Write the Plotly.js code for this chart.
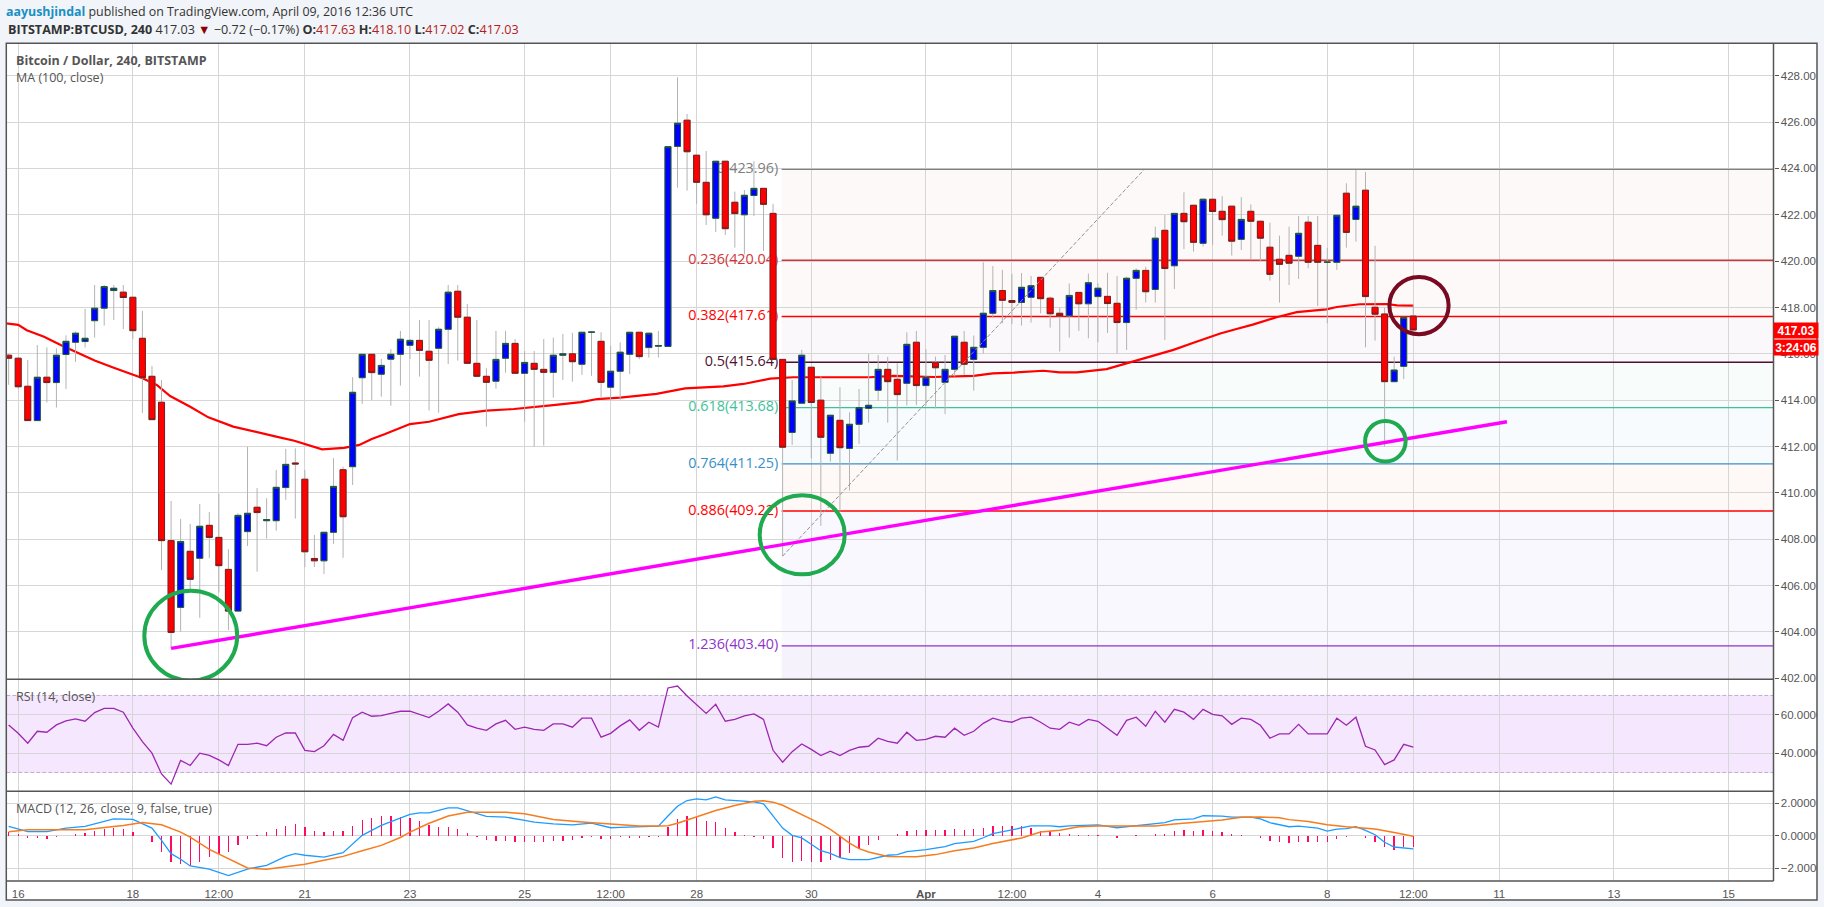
<!DOCTYPE html>
<html><head><meta charset="utf-8">
<script src="https://cdn.plot.ly/plotly-3.0.1.min.js"></script>
<style>html,body{margin:0;padding:0;background:#f1f4f8}#c{width:1824px;height:907px}</style>
</head><body><div id="c"></div>
<script>
// bars are numbered from -1 (first, partly visible) to 146; one bar = 4 hours
const open = [415.94,415.81,414.6,413.12,414.99,414.76,415.97,416.5,416.53,417.43,417.97,418.73,418.66,418.44,416.67,415.03,413.91,407.94,405.06,407.48,407.18,408.6,408.08,406.7,404.9,408.33,409.38,408.8,408.8,410.23,411.29,410.59,407.17,407.07,408.3,411.0,411.13,414.97,415.98,415.12,415.77,415.98,416.37,416.58,416.11,416.24,417.06,418.7,417.58,415.59,415.03,414.82,415.81,416.45,415.16,415.59,415.33,415.2,415.94,416.0,415.55,416.93,416.54,414.56,415.25,415.98,416.93,416.27,416.33,416.32,424.95,426.08,424.57,423.4,421.85,424.31,422.54,422.0,422.83,423.14,422.06,415.76,412.61,413.87,415.42,414.0,411.71,413.13,411.92,412.96,413.65,414.43,415.33,414.9,414.73,416.5,414.63,415.62,414.77,415.33,416.5,415.76,416.28,417.75,418.73,418.3,418.22,418.44,419.3,418.4,417.75,417.64,418.65,418.16,418.47,418.48,418.18,417.35,419.26,419.6,418.78,421.33,419.8,422.06,422.41,420.77,422.67,422.15,422.37,420.94,422.15,421.72,420.6,420.08,420.25,420.21,421.68,420.68,419.95,419.95,422.93,421.8,423.06,418.01,417.72,414.8,415.46,417.63];
const high = [416.0,415.85,415.73,416.38,416.28,416.24,416.8,416.96,417.94,418.97,418.97,418.97,418.97,418.44,417.85,415.48,414.87,409.65,408.87,408.66,409.52,409.18,409.97,407.57,409.12,411.99,410.21,409.77,410.99,411.9,411.92,410.99,408.18,408.3,411.5,411.13,414.99,415.98,416.0,415.78,416.2,416.99,416.64,417.46,417.46,417.15,418.97,418.97,418.15,417.46,415.38,416.99,416.99,416.64,416.12,416.12,416.64,416.7,416.86,416.91,416.93,416.99,416.93,416.35,416.5,416.93,416.93,416.89,416.99,424.94,427.93,426.35,424.57,424.75,424.31,424.31,423.0,423.07,424.31,423.14,422.47,415.76,414.87,416.17,415.42,415.02,413.35,414.56,413.48,414.48,416.0,415.95,415.87,415.59,416.93,416.99,416.2,415.88,415.95,416.76,416.99,416.79,419.95,419.79,419.62,419.45,419.49,419.36,419.3,418.47,417.99,419.04,418.65,419.46,419.04,419.5,419.36,419.33,419.69,419.76,421.49,421.99,422.06,422.97,422.41,422.71,422.67,422.81,422.37,422.76,422.45,421.72,421.66,421.1,421.49,421.95,421.95,421.95,420.57,421.98,423.36,423.93,423.85,420.66,418.0,415.88,417.6,418.1];
const low = [414.66,414.5,413.1,413.1,413.9,413.68,414.48,415.65,416.27,416.7,417.22,417.46,417.07,416.64,413.45,413.16,406.67,403.29,404.01,405.8,404.61,407.18,405.7,404.08,404.9,407.71,406.6,408.03,408.37,409.7,408.89,406.8,406.8,406.5,407.8,407.2,410.34,413.84,414.01,414.15,413.76,414.63,415.78,415.02,413.55,413.46,415.56,415.71,415.59,415.03,412.86,414.5,415.19,415.16,413.07,412.0,412.04,414.11,414.87,414.8,415.09,415.05,414.08,414.0,414.01,415.13,415.77,415.84,415.84,416.32,423.17,423.04,422.46,421.56,421.26,421.13,420.58,420.29,421.95,420.44,415.76,407.27,412.07,413.87,411.49,408.58,411.35,409.19,410.1,412.11,413.03,413.98,413.03,411.39,413.77,413.79,413.75,413.65,413.4,415.02,415.09,414.41,416.02,417.53,417.32,417.29,417.22,417.35,417.75,417.13,416.1,416.7,416.99,416.67,416.5,416.9,416.02,416.17,417.9,418.22,418.21,416.6,418.8,420.52,420.41,420.63,420.7,421.1,420.24,420.48,420.09,419.98,419.16,418.21,418.97,419.23,419.69,418.06,417.32,419.62,420.58,420.84,416.28,416.57,412.0,414.77,414.91,417.02];
const close = [415.81,414.58,413.12,414.99,414.76,415.94,416.54,416.89,416.67,417.97,418.9,418.83,418.43,417.0,414.97,413.16,407.94,403.98,407.9,406.27,408.56,408.08,406.86,404.9,409.03,409.12,409.15,408.85,410.24,411.23,411.25,407.46,407.07,408.3,410.28,408.97,414.34,415.98,415.19,415.5,415.98,416.63,416.58,416.15,415.72,417.06,418.66,417.58,415.59,415.03,414.77,415.76,416.45,415.16,415.63,415.33,415.2,415.94,416.0,415.66,416.93,416.94,414.77,415.25,416.07,416.93,415.88,416.89,416.36,424.94,425.95,424.72,423.4,422.0,424.31,421.4,422.05,422.84,423.14,422.45,415.76,411.97,413.97,415.94,413.9,412.4,413.35,411.95,412.96,413.68,413.78,415.33,414.8,414.24,416.41,414.63,414.99,415.4,415.33,416.76,415.55,416.28,417.75,418.73,418.31,418.22,418.87,418.94,418.38,417.73,417.63,418.52,418.16,419.07,418.83,418.17,417.35,419.26,419.6,418.68,420.99,419.68,422.06,421.7,420.81,422.67,422.14,421.79,420.86,421.8,421.72,420.99,419.43,419.86,419.91,421.2,419.95,419.95,419.96,421.98,421.24,422.37,418.47,417.71,414.8,415.3,417.57,417.03];

const maBars = [-1.3,0,0.9,2.7,4.5,6.4,8,10,11,12.9,14.5,15.9,18,19.9,22.5,24.3,27,28.9,31.8,34.1,35.7,37,38.4,41,43,46.1,49,51.9,53.6,56,58.9,60.6,63,66.8,69.8,73.8,75.9,78.7,81.1,85.3,89.1,91.6,95.8,100,102,104.2,107.3,109,110.8,113.9,116.7,120.9,123,125.8,127.5,129.2,131.7,133.8,136.9,138,140.4,143.2,144.3,146];
const maValues = [417.32,417.25,417.02,416.74,416.37,416.02,415.71,415.4,415.26,414.97,414.66,414.18,413.72,413.26,412.86,412.7,412.43,412.25,411.88,411.94,412.07,412.33,412.54,412.97,413.07,413.4,413.55,413.62,413.68,413.79,413.92,414.05,414.11,414.27,414.51,414.6,414.7,414.93,414.99,414.99,414.99,415.05,415.0,415.05,415.16,415.19,415.27,415.2,415.2,415.34,415.66,416.17,416.48,416.88,417.07,417.26,417.58,417.8,417.92,418.02,418.14,418.15,418.09,418.08];

const rsiValues = [54.68,50.35,45.2,51.4,50.9,54.7,56.8,57.8,56.6,61.1,63.3,63.3,61.3,53,46,40,29.2,23.9,36.3,33.6,40,38.9,36.5,33.6,44.6,44.6,45.2,43.9,48.3,50.5,50.5,41.5,40.8,43.9,49.8,46.7,58.5,61.3,59.2,59.5,60.7,61.8,61.8,60.2,58.5,61.8,65.6,61.3,54.7,53,51.9,55.2,57.1,52.4,53.5,52.4,51.9,55.2,55.2,53.5,58.2,58.2,48.3,50.3,54.2,57.3,51.9,56.1,53.6,73.9,74.9,69.7,65.2,60.7,65.4,56.6,57.6,59.4,60.4,57.6,41.5,35.3,40.8,44.8,42,38.75,41,38.75,41.5,43.1,43.6,47.8,46.2,45.2,50.9,46.7,47.2,48.8,48.3,53,49.3,51.4,55.5,58.2,56.8,56.1,58.2,58.7,56.1,53,52.4,56.1,54.5,57.6,56.6,53,49.3,57.1,58.7,54,61.8,56.1,62.8,61.3,57.6,62.8,60.2,59.4,55,58.2,57.6,54.5,47.8,50,50,55,50,50,50,58.2,54.5,58.7,43.6,41.7,34.1,36.5,44.6,43.1];

const macdBars = [-1,1,3,5,7,9,10,12,14,15,16,17,18,20,22,24,26,28,29,30,32,34,35,36,38,40,41,42,43,45,46,49,51,53,54,56,58,60,62,63,65,67,68,69,70,71,72,73,74,76,77,78,79,80,81,82,84,85,86,87,89,91,92,93,95,97,98,100,101,102,104,106,108,109,110,113,115,117,119,120,121,123,124,126,127,129,130,131,133,134,136,137,138,139,140,141,142,143,144,145,146];
const macdValues = [0.57,0.25,0.25,0.47,0.57,0.88,1.04,1.0,0.47,-0.29,-1.11,-1.46,-1.87,-2.06,-2.47,-2.06,-1.83,-1.28,-1.11,-1.21,-1.32,-1.05,-0.49,0.02,0.63,1.1,1.31,1.41,1.41,1.72,1.72,1.19,1.15,0.94,0.84,0.73,0.67,0.77,0.49,0.51,0.53,0.59,1.21,1.82,2.17,2.27,2.21,2.4,2.21,2.13,2.09,1.97,1.25,0.47,0.02,-0.14,-0.93,-1.09,-1.36,-1.48,-1.48,-1.21,-1.17,-0.99,-0.86,-0.68,-0.49,-0.35,-0.13,0.12,0.36,0.61,0.61,0.55,0.61,0.67,0.49,0.61,0.73,0.8,0.98,1.04,1.23,1.21,1.14,1.14,1.04,0.8,0.55,0.59,0.47,0.28,0.41,0.43,0.55,0.33,0.06,-0.41,-0.7,-0.76,-0.82];
const signalBars = [-1,1,5,7,10,11,13,15,17,18,20,22,24,26,28,30,32,34,36,38,40,41,43,45,47,49,51,53,54,56,59,61,63,65,67,68,69,71,73,75,77,78,79,80,82,84,85,86,87,88,89,90,91,94,96,98,100,102,105,107,109,111,113,117,119,121,124,126,128,130,132,133,135,137,139,141,142,144,146];
const signalValues = [0.24,0.36,0.36,0.36,0.57,0.63,0.82,0.67,0.22,-0.09,-0.85,-1.42,-1.99,-2.08,-1.93,-1.77,-1.52,-1.28,-0.93,-0.6,-0.11,0.22,0.77,1.21,1.45,1.45,1.45,1.35,1.23,1.0,0.84,0.77,0.67,0.59,0.59,0.61,0.77,1.14,1.55,1.86,2.13,2.15,2.07,1.88,1.31,0.73,0.39,-0.05,-0.46,-0.8,-1.01,-1.15,-1.28,-1.3,-1.17,-0.93,-0.76,-0.49,-0.14,0.22,0.33,0.55,0.59,0.59,0.59,0.72,0.88,0.97,1.14,1.16,1.1,0.99,0.88,0.67,0.55,0.43,0.41,0.19,-0.04];
const histValues = [0.23,0.1,-0.14,-0.12,-0.2,-0.06,0,0.1,0.16,0.27,0.39,0.45,0.39,0.2,0,-0.41,-1.0,-1.62,-1.76,-1.85,-1.62,-1.31,-1.15,-1.0,-0.59,-0.2,0.04,0.2,0.39,0.57,0.7,0.51,0.27,0.2,0.27,0.27,0.57,0.94,1.07,1.19,1.19,1.15,1.07,0.88,0.64,0.51,0.51,0.39,0.14,-0.06,-0.29,-0.35,-0.35,-0.41,-0.41,-0.41,-0.41,-0.35,-0.31,-0.29,-0.12,-0.08,-0.23,-0.18,-0.1,-0.14,-0.14,-0.08,-0.06,0.53,1.0,1.19,1.15,0.88,0.82,0.45,0.2,0.02,-0.06,-0.23,-0.78,-1.39,-1.62,-1.56,-1.62,-1.62,-1.52,-1.35,-1.09,-0.84,-0.6,-0.29,0,0.08,0.27,0.33,0.33,0.33,0.33,0.39,0.33,0.39,0.45,0.57,0.57,0.57,0.57,0.45,0.27,0.27,0.14,0.08,0.04,0.02,0.02,0,-0.14,0,0.02,0,0.1,0.1,0.27,0.33,0.27,0.33,0.27,0.23,0.1,0.02,0,-0.14,-0.35,-0.41,-0.47,-0.41,-0.41,-0.41,-0.41,-0.23,-0.08,-0.02,-0.14,-0.41,-0.72,-0.9,-0.72,-0.72];

const fibRatios = ['0','0.236','0.382','0.5','0.618','0.764','0.886','1.236'];
const fibPrices = [423.96,420.04,417.61,415.64,413.68,411.25,409.22,403.40];
const fibColors = ['#808080','#d13438','#ff0000','#4c1130','#3dc29a','#3a8fc9','#ff0000','#8e35c9'];
const fibBandColors = ['#fdf9f9','#fdf9f9','#faf8fa','#f8fcfb','#f7fbfe','#fef8f7','#f9f8fe','#f6f2fc'];

const trendBars = [16,155.8];
const trendPrices = [403.29,413.07];
const fibGuideBars = [80,117.85];
const fibGuidePrices = [407.27,423.96];

const tickBars = [0,12,21,30,41,53,62,71,83,95,104,113,125,137,146,155,167,179];
const tickLabels = ['16','18','12:00','21','23','25','12:00','28','30','<b>Apr</b>','12:00','4','6','8','12:00','11','13','15'];
const priceTicks = [402,404,406,408,410,412,414,416,418,420,422,424,426,428];
const rsiTicks = [40,60];
const macdTicks = [-2,0,2];

const W=1824,H=907;
const px=v=>v/W, py=v=>1-v/H;
const bars = open.map((_,i)=>i-1);
const xRange=[-1.245,183.7];
const priceRange=[401.97,429.39];
const FONT='"Open Sans",sans-serif', TICK='"Liberation Sans",Arial,sans-serif', INK='#555555';

const traces=[];
// --- main price subplot (below the candles)
fibPrices.forEach((p,i)=>traces.push({type:'scatter',mode:'lines',x:[79.9,xRange[1]],y:[p,p],xaxis:'x',yaxis:'y',
  line:{color:fibColors[i],width:1.4},hoverinfo:'skip'}));
traces.push({type:'scatter',mode:'text',x:fibPrices.map(()=>79.55),y:fibPrices,xaxis:'x',yaxis:'y',
  text:fibRatios.map((r,i)=>r+'('+fibPrices[i].toFixed(2)+')'),textposition:'middle left',
  textfont:{family:FONT,size:14.4,color:fibColors},hoverinfo:'skip',cliponaxis:false});
traces.push({type:'scatter',mode:'lines',x:maBars,y:maValues,xaxis:'x',yaxis:'y',line:{color:'#ff0000',width:2.2},hoverinfo:'skip'});
// --- overlay subplot: candles and drawings
traces.push({type:'candlestick',x:bars,open,high,low,close,xaxis:'x',yaxis:'y4',whiskerwidth:0,
  increasing:{line:{color:'#b3b3b3',width:1},fillcolor:'rgba(0,0,0,0)'},
  decreasing:{line:{color:'#b3b3b3',width:1},fillcolor:'rgba(0,0,0,0)'},hoverinfo:'skip'});
traces.push({type:'candlestick',x:bars,open,close,
  high:open.map((o,i)=>Math.max(o,close[i])),low:open.map((o,i)=>Math.min(o,close[i])),
  xaxis:'x',yaxis:'y4',whiskerwidth:0,
  increasing:{line:{color:'#1d5c38',width:1},fillcolor:'#0000ff'},
  decreasing:{line:{color:'#7c1c1c',width:1},fillcolor:'#ff0000'},hoverinfo:'skip'});
traces.push({type:'scatter',mode:'lines',x:fibGuideBars,y:fibGuidePrices,xaxis:'x',yaxis:'y4',line:{color:'#909090',width:1,dash:'4px 2px'},hoverinfo:'skip'});
traces.push({type:'scatter',mode:'lines',x:trendBars,y:trendPrices,xaxis:'x',yaxis:'y4',line:{color:'#ff00ff',width:3.4},hoverinfo:'skip'});
// --- RSI
[70,30].forEach(v=>traces.push({type:'scatter',mode:'lines',x:xRange,y:[v,v],xaxis:'x',yaxis:'y2',line:{color:'#c0aecb',width:1,dash:'4px 2px'},hoverinfo:'skip'}));
traces.push({type:'scatter',mode:'lines',x:bars,y:rsiValues,xaxis:'x',yaxis:'y2',line:{color:'#9c27b0',width:1.3},hoverinfo:'skip'});
// --- MACD
traces.push({type:'bar',x:bars,y:histValues,xaxis:'x',yaxis:'y3',width:0.14,marker:{color:'#ff0a62',line:{width:0}},hoverinfo:'skip'});
traces.push({type:'scatter',mode:'lines',x:macdBars,y:macdValues,xaxis:'x',yaxis:'y3',line:{color:'#1e9bff',width:1.3},hoverinfo:'skip'});
traces.push({type:'scatter',mode:'lines',x:signalBars,y:signalValues,xaxis:'x',yaxis:'y3',line:{color:'#f57c1f',width:1.5},hoverinfo:'skip'});

const yBase={side:'right',anchor:'x',showline:false,zeroline:false,ticks:'outside',ticklen:4,tickwidth:1,tickcolor:INK,
  gridcolor:'#d6d6d6',gridwidth:1,tickfont:{family:TICK,size:11.5,color:INK},fixedrange:true};

const bandEdges=[...fibPrices,priceRange[0]];
const shapes=[
  {type:'rect',xref:'paper',yref:'paper',x0:px(6.3),x1:px(1817),y0:py(900),y1:py(43.3),fillcolor:'#ffffff',line:{width:0},layer:'below'},
  ...fibBandColors.map((c,i)=>({type:'rect',xref:'x',yref:'y',x0:79.9,x1:xRange[1],y0:bandEdges[i+1],y1:bandEdges[i],fillcolor:c,line:{width:0},layer:'below'})),
  {type:'rect',xref:'x',yref:'y2',x0:xRange[0],x1:xRange[1],y0:30,y1:70,fillcolor:'#f5e7fd',line:{width:0},layer:'below'},
  {type:'circle',xref:'x',yref:'y',x0:13.2,x1:22.92,y0:401.9,y1:405.78,line:{color:'#1faa50',width:4},layer:'above'},
  {type:'circle',xref:'x',yref:'y',x0:77.6,x1:86.5,y0:406.49,y1:409.9,line:{color:'#1faa50',width:4},layer:'above'},
  {type:'circle',xref:'x',yref:'y',x0:140.96,x1:145.2,y0:411.35,y1:413.1,line:{color:'#1faa50',width:4},layer:'above'},
  {type:'circle',xref:'x',yref:'y',x0:143.5,x1:149.7,y0:416.85,y1:419.32,line:{color:'#7a0a22',width:4},layer:'above'},
  {type:'rect',xref:'paper',yref:'paper',x0:px(1817),x1:1,y0:0,y1:1,fillcolor:'#f1f4f8',line:{width:0},layer:'above'},
  {type:'rect',xref:'paper',yref:'paper',x0:px(6.3),x1:px(1817),y0:py(900),y1:py(43.3),fillcolor:'rgba(0,0,0,0)',line:{color:INK,width:1.5},layer:'above'},
  ...[679.3,791.3,881].map(y=>({type:'line',xref:'paper',yref:'paper',x0:px(6.3),x1:px(1773.5),y0:py(y),y1:py(y),line:{color:INK,width:1.5},layer:'above'})),
  {type:'line',xref:'paper',yref:'paper',x0:px(1773.5),x1:px(1773.5),y0:py(881),y1:py(43.3),line:{color:INK,width:1.5},layer:'above'}
];
const note=(x,y,text,size,extra)=>Object.assign({xref:'paper',yref:'paper',x:px(x),y:py(y),text,showarrow:false,xanchor:'left',yanchor:'middle',borderpad:0,
  font:{family:FONT,size,color:INK}},extra||{});
const R=s=>'<span style="color:#b71c1c">'+s+'</span>';
const annotations=[
  note(5,11.7,'<b><span style="color:#1a8fc4">aayushjindal</span></b> published on TradingView.com, April 09, 2016 12:36 UTC',12.4,{font:{family:FONT,size:12.4,color:'#333'}}),
  note(7,29.7,'<b>BITSTAMP:BTCUSD, 240</b> 417.03 <span style="color:#8b0000">▼</span> −0.72 (−0.17%) <b>O:</b>'+R('417.63')+' <b>H:</b>'+R('418.10')+' <b>L:</b>'+R('417.02')+' <b>C:</b>'+R('417.03'),12.6,{font:{family:FONT,size:12.6,color:'#333'}}),
  note(15,60.3,'<b>Bitcoin / Dollar, 240, BITSTAMP</b>',12.5),
  note(15,77.3,'MA (100, close)',12.5),
  note(15,696.7,'RSI (14, close)',12.5),
  note(15,808.3,'MACD (12, 26, close, 9, false, true)',12.5),
  note(1773,330,'<b>417.03</b>',12,{width:44,height:15,align:'center',bgcolor:'#ff0000',font:{family:TICK,size:12,color:'#fff'}}),
  note(1773,347.5,'<b>3:24:06</b>',12,{width:44,height:15,align:'center',bgcolor:'#ff0000',font:{family:TICK,size:12,color:'#fff'}})
];

const layout={
  width:W,height:H,margin:{l:0,r:0,t:0,b:0},paper_bgcolor:'#f1f4f8',plot_bgcolor:'rgba(0,0,0,0)',showlegend:false,hovermode:false,dragmode:false,
  xaxis:{domain:[px(6.3),px(1773.5)],range:xRange,anchor:'y3',tickmode:'array',tickvals:tickBars,ticktext:tickLabels,ticks:'outside',ticklen:2,tickcolor:'rgba(0,0,0,0)',
    gridcolor:'#d6d6d6',gridwidth:1,showline:false,zeroline:false,tickfont:{family:TICK,size:11.5,color:INK},rangeslider:{visible:false},fixedrange:true},
  yaxis:Object.assign({},yBase,{domain:[py(679),py(43.5)],range:priceRange,tickmode:'array',tickvals:priceTicks,tickformat:'.2f'}),
  yaxis2:Object.assign({},yBase,{domain:[py(791.3),py(679.3)],range:[20.2,78.4],tickmode:'array',tickvals:rsiTicks,tickformat:'.4f'}),
  yaxis3:Object.assign({},yBase,{domain:[py(881),py(791.3)],range:[-2.8,2.74],tickmode:'array',tickvals:macdTicks,tickformat:'.4f'}),
  yaxis4:{overlaying:'y',matches:'y',anchor:'x',side:'right',visible:false,showgrid:false,range:priceRange,fixedrange:true},
  bargap:0,boxmode:'overlay',boxgap:0.1,shapes,annotations
};
Plotly.newPlot('c',traces,layout,{staticPlot:true,displayModeBar:false});
</script></body></html>
